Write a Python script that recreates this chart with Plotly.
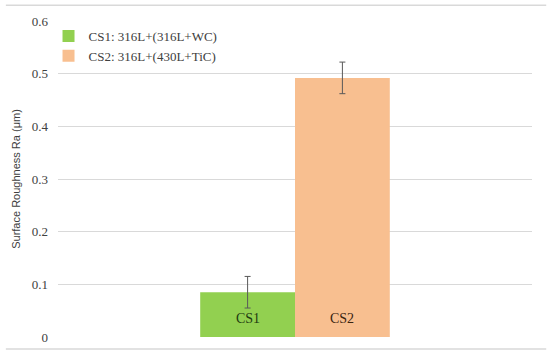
import plotly.graph_objects as go

# 데이터
category = ["Sample"]
series_names = ["CS1: 316L+(316L+WC)", "CS2: 316L+(430L+TiC)"]
bar_labels = ["CS1", "CS2"]
ra_values = [0.085, 0.492]
ra_errors = [0.030, 0.030]
bar_colors = ["#92D050", "#F8BF90"]
label_colors = ["#1F3B10", "#3A2410"]

serif = "Liberation Serif"

fig = go.Figure()
for name, val, err, col in zip(series_names, ra_values, ra_errors, bar_colors):
    fig.add_trace(go.Bar(
        x=category, y=[val], name=name,
        marker=dict(color=col, line=dict(width=0)),
        error_y=dict(type="data", array=[err], color="#595959", thickness=1, width=3),
    ))

# 막대 안쪽 라벨
for i, (lab, lc) in enumerate(zip(bar_labels, label_colors)):
    fig.add_annotation(
        x=category[0], y=0, text=lab, showarrow=False,
        xshift=(-47 if i == 0 else 47), yshift=19,
        font=dict(family=serif, size=14, color=lc),
    )

# 차트 테두리 (위/아래)
for yy in (1.05, -0.038):
    fig.add_shape(type="line", xref="paper", yref="paper", layer="above",
                  x0=-0.11, x1=1.03, y0=yy, y1=yy,
                  line=dict(color="#D9D9D9", width=1.5))

fig.update_layout(
    width=550, height=356,
    margin=dict(l=58, r=18, t=21, b=19),
    plot_bgcolor="white", paper_bgcolor="white",
    font=dict(family=serif, size=13, color="#404040"),
    barmode="group", bargap=0.6, bargroupgap=0,
    showlegend=True,
    legend=dict(x=-0.02, y=1.0, xanchor="left", yanchor="top",
                bgcolor="rgba(0,0,0,0)", tracegroupgap=4,
                font=dict(family=serif, size=13, color="#404040")),
    xaxis=dict(showticklabels=False, showgrid=False, zeroline=False, showline=False),
    yaxis=dict(range=[0, 0.6], dtick=0.1, showgrid=True, gridcolor="#D9D9D9",
               gridwidth=1, zeroline=False, showline=False, automargin=False,
               tickformat="~g", ticks="", ticklen=0, ticklabelstandoff=9,
               tickfont=dict(family=serif, size=13, color="#404040"),
               title=dict(text="Surface Roughness Ra (μm)", standoff=8,
                          font=dict(family="Liberation Sans", size=11, color="#404040"))),
)

fig.write_html("out.html", config={"displayModeBar": False},
               post_script="document.body.style.margin='0';")
